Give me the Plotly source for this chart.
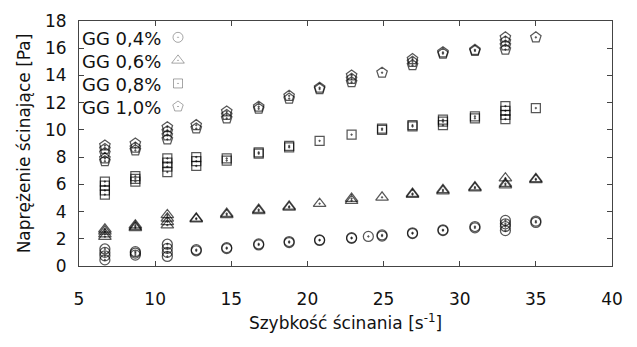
import plotly.graph_objects as go

# Shear rates [1/s]
shear_rates = [6.7, 8.7, 10.8, 12.7, 14.7, 16.8, 18.8, 20.8, 22.9, 24.9, 26.9, 28.9, 31.0, 33.0, 35.0]

# Replicate shear-stress readings [Pa] per shear rate
gg04 = [[0.45, 0.75, 1.0, 1.25], [0.8, 0.95, 1.05], [0.7, 1.0, 1.3, 1.6], [1.12, 1.2],
        [1.28, 1.35], [1.55, 1.62], [1.72, 1.8], [1.88, 1.92], [2.03, 2.08], [2.2, 2.28],
        [2.38, 2.44], [2.6, 2.66], [2.8, 2.9], [2.6, 2.9, 3.1, 3.35], [3.2, 3.3]]
gg04_extra_x = [24.0]
gg04_extra_y = [2.17]

gg06 = [[2.15, 2.35, 2.55, 2.7], [2.8, 2.9, 3.0], [3.0, 3.25, 3.5, 3.75], [3.45, 3.5],
        [3.75, 3.85], [4.05, 4.15], [4.3, 4.38], [4.58], [4.8, 4.95], [5.05],
        [5.25, 5.32], [5.5, 5.6], [5.72, 5.8], [5.95, 6.05, 6.45], [6.33, 6.4]]

gg08 = [[5.25, 5.55, 5.9, 6.2], [6.2, 6.4, 6.6], [6.9, 7.3, 7.6, 7.9], [7.35, 7.7, 8.0],
        [7.75, 7.9], [8.25, 8.35], [8.72, 8.82], [9.2], [9.65], [10.0, 10.1],
        [10.25, 10.35], [10.35, 10.6, 10.75], [10.85, 11.0], [10.8, 11.1, 11.4, 11.75], [11.6]]

gg10 = [[7.7, 7.9, 8.3, 8.6, 8.85], [8.5, 8.7, 9.0], [9.3, 9.6, 9.9, 10.2], [10.1, 10.35],
        [10.85, 11.1, 11.35], [11.55, 11.7], [12.3, 12.5], [13.0, 13.1], [13.5, 13.75, 14.0],
        [14.2], [14.75, 15.0, 15.2], [15.6, 15.7], [15.8, 15.88], [15.9, 16.2, 16.5, 16.8], [16.8]]

series_names = ["GG 0,4%", "GG 0,6%", "GG 0,8%", "GG 1,0%"]
series_symbols = ["circle-open-dot", "triangle-up-open-dot", "square-open-dot", "pentagon-open-dot"]
series_sizes = [10, 11, 9, 11]

x_ticks = [5, 10, 15, 20, 25, 30, 35, 40]
y_ticks = [0, 2, 4, 6, 8, 10, 12, 14, 16, 18]


def flatten(groups, xs):
    fx, fy = [], []
    for x, ys in zip(xs, groups):
        for y in ys:
            fx.append(x)
            fy.append(y)
    return fx, fy


datasets = []
fx, fy = flatten(gg04, shear_rates)
datasets.append((fx + gg04_extra_x, fy + gg04_extra_y))
for g in (gg06, gg08, gg10):
    datasets.append(flatten(g, shear_rates))

FONT = "DejaVu Sans"
MARK_COL = "rgba(0,0,0,0.66)"
W, H = 637, 347
ML, MR, MT, MB = 79, 25, 11, 81
PW, PH = W - ML - MR, H - MT - MB

fig = go.Figure()
for (xs, ys), name, sym, sz in zip(datasets, series_names, series_symbols, series_sizes):
    fig.add_trace(go.Scatter(
        x=xs, y=ys, mode="markers", name=name, showlegend=False,
        marker=dict(symbol=sym, size=sz, color=MARK_COL,
                    line=dict(color=MARK_COL, width=1.25)),
    ))

# Key (text left, symbol right) in pixel coordinates of the plot area
key_rows = [17, 41, 65, 89]
key_symbol_x = 99
fig.add_trace(go.Scatter(
    x=[key_symbol_x] * 4, y=key_rows, mode="markers", xaxis="x2", yaxis="y2",
    showlegend=False, hoverinfo="skip",
    marker=dict(symbol=series_symbols, size=series_sizes, color="rgba(0,0,0,0.5)",
                line=dict(color="rgba(0,0,0,0.5)", width=1)),
))
annotations = []
for name, ry in zip(series_names, key_rows):
    annotations.append(dict(
        x=1, y=ry + 1, xref="x2", yref="y2", text=name, showarrow=False,
        xanchor="left", yanchor="middle", font=dict(family=FONT, size=18, color="#111"),
    ))

axis_common = dict(
    showline=True, linecolor="#444", linewidth=1, mirror="ticks",
    ticks="inside", ticklen=5, tickcolor="#444", tickwidth=1,
    showgrid=False, zeroline=False,
    tickfont=dict(family=FONT, size=17, color="#111"),
)

fig.update_layout(
    width=W, height=H,
    margin=dict(l=ML, r=MR, t=MT, b=MB),
    paper_bgcolor="white", plot_bgcolor="white",
    font=dict(family=FONT, size=17, color="#111"),
    xaxis=dict(range=[5, 40], tickvals=x_ticks, ticklabelstandoff=18,
               title=dict(text="Szybkość ścinania [s<sup>-1</sup>]",
                          font=dict(family=FONT, size=17, color="#111"), standoff=8),
               **axis_common),
    yaxis=dict(range=[0, 18], tickvals=y_ticks, ticklabelstandoff=8,
               title=dict(text="Naprężenie ścinające [Pa]",
                          font=dict(family=FONT, size=17, color="#111"), standoff=10),
               **axis_common),
    xaxis2=dict(overlaying="x", range=[0, PW], visible=False, fixedrange=True),
    yaxis2=dict(overlaying="y", range=[PH, 0], visible=False, fixedrange=True),
    annotations=annotations,
    showlegend=False,
)

fig.write_html("out.html")
